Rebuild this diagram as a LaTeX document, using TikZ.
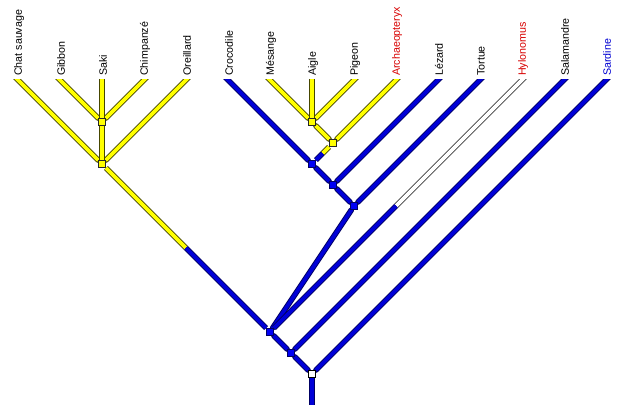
\documentclass[tikz,border=0pt]{standalone}
\usepackage{fontspec}
\setsansfont{Liberation Sans}
\usetikzlibrary{calc}
\pgfdeclarelayer{background}
\pgfsetlayers{background,main}
\definecolor{cladeyellow}{RGB}{255,255,0}
\definecolor{yellowedge}{RGB}{70,70,0}
\definecolor{cladeblue}{RGB}{0,0,215}
\definecolor{knotblue}{RGB}{0,0,245}
\definecolor{blueedge}{RGB}{0,0,100}
\definecolor{fossilred}{RGB}{215,0,0}
\definecolor{fishblue}{RGB}{0,0,210}

\begin{document}
\begin{tikzpicture}[x=0.75pt,y=-0.75pt,
  taxon/.style={rotate=90,anchor=west,inner sep=0pt,
  font=\sffamily\fontsize{8}{9}\selectfont},
  knot/.style={rectangle,line width=0.75pt,minimum size=5.2pt,inner sep=0pt},
  yknot/.style={knot,fill=cladeyellow,draw=black!85},
  bknot/.style={knot,fill=knotblue,draw=blueedge},
  wknot/.style={knot,fill=white,draw=black},
  branch/.style={line width=0.7pt,double distance=2.8pt,line cap=round},
  ybranch/.style={branch,draw=yellowedge,double=cladeyellow},
  bbranch/.style={branch,draw=blueedge,double=cladeblue},
  wbranch/.style={branch,draw=black!75,double=white},
  cut/.style={line cap=butt},
  tip/.style={shorten <=-6pt}]

  \useasboundingbox (0,0) rectangle (644,406);

  % leaves and their names
  \foreach \name/\txt/\col [count=\i] in {chat/Chat sauvage/black,
      gibbon/Gibbon/black, saki/Saki/black, chimp/Chimpanzé/black,
      oreil/Oreillard/black, croc/Crocodile/black, mesange/Mésange/black,
      aigle/Aigle/black, pigeon/Pigeon/black, arch/Archaeopteryx/fossilred,
      lezard/Lézard/black, tortue/Tortue/black, hylo/Hylonomus/fossilred,
      sala/Salamandre/black, sard/Sardine/fishblue} {
    \coordinate (\name) at ({18+42*(\i-1)},80);
    \node[taxon,text=\col] (\name-lbl) at ($(\name)+(1,-4)$) {\txt};
  }

  % internal nodes
  \node[yknot] (s1) at (102,122) {};
  \node[yknot] (s2) at (102,164) {};
  \node[yknot] (a1) at (312,122) {};
  \node[yknot] (a2) at (333,143) {};
  \node[bknot] (c1) at (312,164) {};
  \node[bknot] (c2) at (333,185) {};
  \node[bknot] (c3) at (354,206) {};
  \node[bknot] (r1) at (270,332) {};
  \node[bknot] (r2) at (291,353) {};
  \node[wknot] (r3) at (312,374) {};
  \coordinate (root) at (312,405);

  \coordinate (split1) at ($(s2)!0.5!(r1)$);
  \coordinate (split2) at ($(a2)!0.5!(c1)$);
  \coordinate (split3) at ($(hylo)!0.5!(r1)$);

  \begin{pgfonlayer}{background}
  \begin{scope}
    \clip (0,80) rectangle (644,406);
    % mammals
    \draw[ybranch,tip] (chat) -- (s2);
    \draw[ybranch,tip] (gibbon) -- (s1);
    \draw[ybranch,tip] (chimp) -- (s1);
    \draw[ybranch,tip] (oreil) -- (s2);
    \draw[ybranch,tip] (saki) -- (s1);
    \draw[ybranch] (s1) -- (s2);
    \draw[ybranch,cut] (s2) -- (split1);
    \draw[bbranch,cut] (split1) -- (r1);
    % birds
    \draw[ybranch,tip] (mesange) -- (a1);
    \draw[ybranch,tip] (pigeon) -- (a1);
    \draw[ybranch,tip] (aigle) -- (a1);
    \draw[ybranch] (a1) -- (a2);
    \draw[ybranch,tip] (arch) -- (a2);
    \draw[ybranch,cut] (a2) -- (split2);
    \draw[bbranch,cut] (split2) -- (c1);
    % reptiles
    \draw[bbranch,tip] (croc) -- (c1);
    \draw[bbranch] (c1) -- (c2);
    \draw[bbranch,tip] (lezard) -- (c2);
    \draw[bbranch] (c2) -- (c3);
    \draw[bbranch,tip] (tortue) -- (c3);
    \draw[bbranch] (c3) -- (r1);
    \draw[wbranch,tip,cut] (hylo) -- (split3);
    \draw[bbranch,cut] (split3) -- (r1);
    % base
    \draw[bbranch] (r1) -- (r2);
    \draw[bbranch,tip] (sala) -- (r2);
    \draw[bbranch] (r2) -- (r3);
    \draw[bbranch,tip] (sard) -- (r3);
    \draw[bbranch,cut] (r3) -- (root);
  \end{scope}
  \end{pgfonlayer}
\end{tikzpicture}
\end{document}
